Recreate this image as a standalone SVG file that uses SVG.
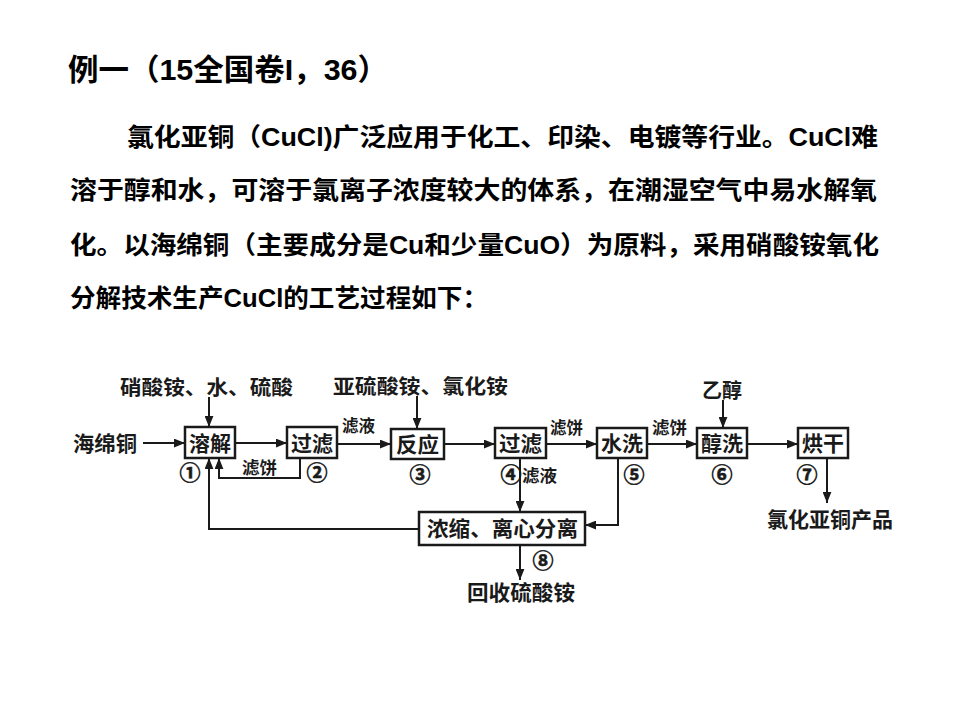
<svg xmlns="http://www.w3.org/2000/svg" width="960" height="720" viewBox="0 0 960 720">
<style>
.t{font-family:"Liberation Sans","Noto Sans CJK SC",sans-serif;font-weight:bold;fill:#000}
.d{font-family:"Noto Sans CJK SC","Liberation Sans",sans-serif;font-weight:bold;fill:#1a1a1a}
.c{font-family:"Noto Sans CJK SC","DejaVu Sans",sans-serif;font-weight:bold;font-size:21px;fill:#1a1a1a;stroke:#1a1a1a;stroke-width:0.6;text-anchor:middle}
.s{font-family:"Noto Sans CJK SC","Liberation Sans",sans-serif;font-weight:bold;font-size:17px;fill:#1a1a1a}
.box{fill:#fff;stroke:#1a1a1a;stroke-width:2.5}
.ln{fill:none;stroke:#1a1a1a;stroke-width:2}
</style>
<defs>
<marker id="ah" viewBox="0 0 10 8" refX="10" refY="4" markerWidth="11" markerHeight="9" markerUnits="userSpaceOnUse" orient="auto">
<path d="M0,0 L10,4 L0,8 Z" fill="#1a1a1a"/>
</marker>
</defs>
<rect width="960" height="720" fill="#fff"/>
<g id="text">
<text class="t" x="68" y="80" font-size="30" textLength="320" lengthAdjust="spacingAndGlyphs">例一（15全国卷I，36）</text>
<text class="t" x="127" y="146" font-size="25" textLength="751" lengthAdjust="spacingAndGlyphs">氯化亚铜（CuCl)广泛应用于化工、印染、电镀等行业。CuCl难</text>
<text class="t" x="70" y="199" font-size="25" textLength="807" lengthAdjust="spacingAndGlyphs">溶于醇和水，可溶于氯离子浓度较大的体系，在潮湿空气中易水解氧</text>
<text class="t" x="70" y="254" font-size="25" textLength="809" lengthAdjust="spacingAndGlyphs">化。以海绵铜（主要成分是Cu和少量CuO）为原料，采用硝酸铵氧化</text>
<text class="t" x="70" y="307" font-size="25" textLength="418" lengthAdjust="spacingAndGlyphs">分解技术生产CuCl的工艺过程如下：</text>
</g>
<g id="connectors">
<line class="ln" x1="143" y1="443" x2="185" y2="443" marker-end="url(#ah)"/>
<line class="ln" x1="235" y1="443" x2="287" y2="443" marker-end="url(#ah)"/>
<line class="ln" x1="337" y1="444" x2="391" y2="444" marker-end="url(#ah)"/>
<line class="ln" x1="444" y1="444" x2="495" y2="444" marker-end="url(#ah)"/>
<line class="ln" x1="546" y1="444" x2="597" y2="444" marker-end="url(#ah)"/>
<line class="ln" x1="647" y1="444" x2="697" y2="444" marker-end="url(#ah)"/>
<line class="ln" x1="747" y1="444" x2="798" y2="444" marker-end="url(#ah)"/>
<line class="ln" x1="209" y1="397" x2="209" y2="427" marker-end="url(#ah)"/>
<line class="ln" x1="417" y1="396" x2="417" y2="429" marker-end="url(#ah)"/>
<line class="ln" x1="723" y1="400" x2="723" y2="428" marker-end="url(#ah)"/>
<line class="ln" x1="827" y1="458" x2="827" y2="503" marker-end="url(#ah)"/>
<line class="ln" x1="520" y1="458" x2="520" y2="512" marker-end="url(#ah)"/>
<line class="ln" x1="520" y1="545" x2="520" y2="580" marker-end="url(#ah)"/>
<polyline class="ln" points="618,458 618,525 585,525" marker-end="url(#ah)"/>
<polyline class="ln" points="300,458 300,478 219,478 219,458" marker-end="url(#ah)"/>
<polyline class="ln" points="419,529 209,529 209,458" marker-end="url(#ah)"/>
<text class="s" x="342" y="432" textLength="33" lengthAdjust="spacingAndGlyphs">滤液</text>
<text class="s" x="242" y="474" textLength="35" lengthAdjust="spacingAndGlyphs">滤饼</text>
<text class="s" x="550" y="434" textLength="33" lengthAdjust="spacingAndGlyphs">滤饼</text>
<text class="s" x="652" y="434" textLength="35" lengthAdjust="spacingAndGlyphs">滤饼</text>
<text class="s" x="522" y="482" textLength="35" lengthAdjust="spacingAndGlyphs">滤液</text>
</g>
<g id="labels">
<text class="d" x="120" y="395" font-size="20" textLength="173" lengthAdjust="spacingAndGlyphs">硝酸铵、水、硫酸</text>
<text class="d" x="333" y="394" font-size="20" textLength="175" lengthAdjust="spacingAndGlyphs">亚硫酸铵、氯化铵</text>
<text class="d" x="702" y="398" font-size="20" textLength="40" lengthAdjust="spacingAndGlyphs">乙醇</text>
<text class="d" x="73" y="451" font-size="21" textLength="64" lengthAdjust="spacingAndGlyphs">海绵铜</text>
<text class="d" x="767" y="527" font-size="21" textLength="126" lengthAdjust="spacingAndGlyphs">氯化亚铜产品</text>
<text class="d" x="467" y="600" font-size="21" textLength="108" lengthAdjust="spacingAndGlyphs">回收硫酸铵</text>
</g>
<g id="n1"><rect class="box" x="185" y="427" width="50" height="31"/><text class="d" x="189" y="451" font-size="21" textLength="42" lengthAdjust="spacingAndGlyphs">溶解</text><text class="c" x="190" y="480">①</text></g>
<g id="n2"><rect class="box" x="287" y="427" width="50" height="31"/><text class="d" x="291" y="451" font-size="21" textLength="42" lengthAdjust="spacingAndGlyphs">过滤</text><text class="c" x="317" y="480">②</text></g>
<g id="n3"><rect class="box" x="391" y="429" width="53" height="30"/><text class="d" x="396" y="452" font-size="21" textLength="43" lengthAdjust="spacingAndGlyphs">反应</text><text class="c" x="420" y="482">③</text></g>
<g id="n4"><rect class="box" x="495" y="428" width="51" height="30"/><text class="d" x="499" y="451" font-size="21" textLength="43" lengthAdjust="spacingAndGlyphs">过滤</text><text class="c" x="511" y="482">④</text></g>
<g id="n5"><rect class="box" x="597" y="428" width="50" height="30"/><text class="d" x="601" y="451" font-size="21" textLength="42" lengthAdjust="spacingAndGlyphs">水洗</text><text class="c" x="634" y="482">⑤</text></g>
<g id="n6"><rect class="box" x="697" y="428" width="50" height="30"/><text class="d" x="701" y="451" font-size="21" textLength="42" lengthAdjust="spacingAndGlyphs">醇洗</text><text class="c" x="722" y="482">⑥</text></g>
<g id="n7"><rect class="box" x="798" y="428" width="50" height="30"/><text class="d" x="802" y="451" font-size="21" textLength="42" lengthAdjust="spacingAndGlyphs">烘干</text><text class="c" x="807" y="482">⑦</text></g>
<g id="n8"><rect class="box" x="419" y="512" width="166" height="33"/><text class="d" x="427" y="536" font-size="21" textLength="151" lengthAdjust="spacingAndGlyphs">浓缩、离心分离</text><text class="c" x="543" y="568">⑧</text></g>
</svg>
